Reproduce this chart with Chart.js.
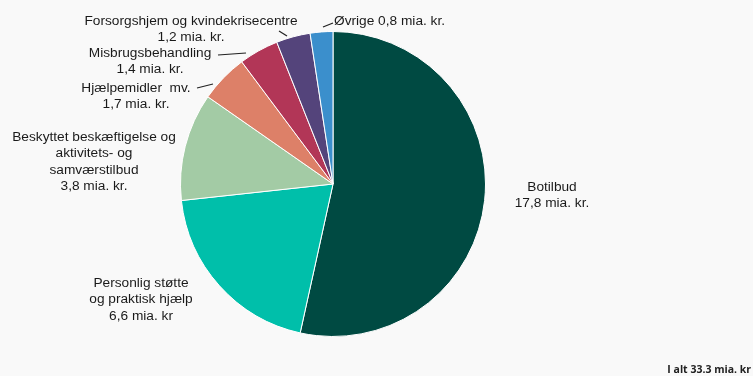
<!DOCTYPE html>
<html>
<head>
<meta charset="utf-8">
<script src="https://cdn.jsdelivr.net/npm/chart.js@4.4.1/dist/chart.umd.min.js"></script>
<style>
  html, body { margin: 0; padding: 0; background: #f9f9f9; }
  #wrap { position: relative; width: 753px; height: 376px; }
</style>
</head>
<body>
<div id="wrap"><canvas id="pie" width="753" height="376"></canvas></div>
<script>
// Data
const categories = [
    "Botilbud",
    "Personlig støtte og praktisk hjælp",
    "Beskyttet beskæftigelse og aktivitets- og samværstilbud",
    "Hjælpemidler mv.",
    "Misbrugsbehandling",
    "Forsorgshjem og kvindekrisecentre",
    "Øvrige"
];
const values = [17.8, 6.6, 3.8, 1.7, 1.4, 1.2, 0.8];
const valueLabels = ["17,8 mia. kr.", "6,6 mia. kr", "3,8 mia. kr.", "1,7 mia. kr.", "1,4 mia. kr.", "1,2 mia. kr.", "0,8 mia. kr."];
const colors = ["#004a42", "#00bfaa", "#a3cba5", "#dd8068", "#b23657", "#54447b", "#3b8fcc"];
const totalLabel = "I alt 33.3 mia. kr";

// Tekstlinjer pr. etiket (manuelt placeret som i originalen)
const labelLines = [
    ["Botilbud", valueLabels[0]],
    ["Personlig støtte", "og praktisk hjælp", valueLabels[1]],
    ["Beskyttet beskæftigelse og", "aktivitets- og", "samværstilbud", valueLabels[2]],
    ["Hjælpemidler  mv.", valueLabels[3]],
    ["Misbrugsbehandling", valueLabels[4]],
    ["Forsorgshjem og kvindekrisecentre", valueLabels[5]],
    ["Øvrige " + valueLabels[6]]
];
const labelPos = [
    { x: 552, y: 187, align: "center" },
    { x: 141, y: 283, align: "center" },
    { x: 94, y: 137, align: "center" },
    { x: 136, y: 88, align: "center" },
    { x: 150, y: 53, align: "center" },
    { x: 191, y: 21, align: "center" },
    { x: 334, y: 21, align: "left" }
];
// leader lines (annotation strokes)
const leaders = [null, null, null,
    [197, 88, 213, 84],
    [218, 55, 246, 53],
    [279, 31, 287, 36],
    [323, 27, 333, 23]
];

const labelPlugin = {
    id: "pieLabels",
    afterDraw(chart) {
        const ctx = chart.ctx;
        ctx.save();
        ctx.fillStyle = "#1a1a1a";
        ctx.font = "13.7px 'Liberation Sans', Arial, sans-serif";
        ctx.textBaseline = "middle";
        labelLines.forEach(function (lines, i) {
            const p = labelPos[i];
            ctx.textAlign = p.align;
            lines.forEach(function (t, k) {
                ctx.fillText(t, p.x, p.y + k * 16.5);
            });
            const l = leaders[i];
            if (l) {
                ctx.strokeStyle = "#222";
                ctx.lineWidth = 1.2;
                ctx.beginPath();
                ctx.moveTo(l[0], l[1]);
                ctx.lineTo(l[2], l[3]);
                ctx.stroke();
            }
        });
        ctx.font = "bold 10.5px 'Open Sans', sans-serif";
        ctx.textAlign = "right";
        ctx.textBaseline = "alphabetic";
        ctx.fillStyle = "#222";
        ctx.fillText(totalLabel, 751, 373);
        ctx.restore();
    }
};

new Chart(document.getElementById("pie"), {
    type: "pie",
    data: {
        labels: categories,
        datasets: [{
            data: values,
            backgroundColor: colors,
            borderColor: "#ffffff",
            borderWidth: 1
        }]
    },
    options: {
        responsive: false,
        animation: false,
        layout: { padding: { top: 31, bottom: 39, left: 100, right: 187 } },
        plugins: {
            legend: { display: false },
            tooltip: { enabled: false }
        }
    },
    plugins: [labelPlugin]
});
</script>
</body>
</html>
